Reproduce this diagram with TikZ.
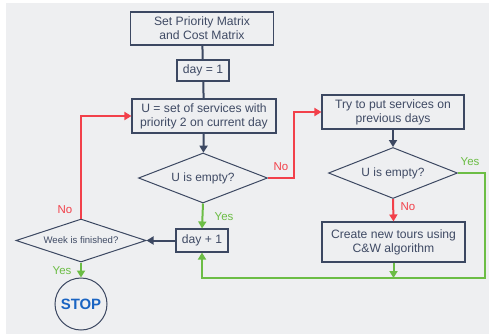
\documentclass[tikz,border=0pt]{standalone}
\usepackage{fontspec}
\setmainfont{Liberation Sans}
\usetikzlibrary{shapes.geometric,arrows.meta,calc}
\definecolor{bg}{HTML}{EEEFF1}
\definecolor{ln}{HTML}{3C4862}
\definecolor{tx}{HTML}{3F4A64}
\definecolor{rd}{HTML}{F2404A}
\definecolor{gr}{HTML}{6CBD45}
\definecolor{bl}{HTML}{1A64C2}
\tikzset{
  box/.style={draw=ln,line width=1.1bp,inner sep=0pt,align=center,text=tx,font=\fontsize{12.2}{14}\selectfont},
  dia/.style={draw=ln,line width=1bp,diamond,inner sep=0pt,text=tx,font=\fontsize{12}{14}\selectfont},
  conn/.style={line width=2bp},
  tip/.style={-{Triangle[length=7bp,width=8bp]}},
  dk/.style={conn,draw=ln},
  nored/.style={conn,draw=rd},
  yesgr/.style={conn,draw=gr},
  lbl/.style={font=\fontsize{11.5}{13}\selectfont,inner sep=0pt}
}
\begin{document}
\begin{tikzpicture}[x=1bp,y=-1bp]
\useasboundingbox (0,0) rectangle (489,334);
\fill[bg] (6,3) rectangle (489,334);
% nodes
\node[box,minimum width=143bp,minimum height=33bp] (set) at (202,28.5) {Set Priority Matrix\\and Cost Matrix};
\node[box,minimum width=52bp,minimum height=21bp] (day1) at (203,70.5) {day = 1};
\node[box,minimum width=144bp,minimum height=34bp] (U) at (204,116) {U = set of services with\\priority 2 on current day};
\node[dia,aspect=2.58,minimum width=129bp,minimum height=50bp] (d1) at (203,178) {U is empty?};
\node[box,minimum width=142bp,minimum height=34bp] (try) at (393,112) {Try to put services on\\previous days};
\node[dia,aspect=2.53,minimum width=129bp,minimum height=51bp] (d2) at (393,173) {U is empty?};
\node[box,minimum width=143bp,minimum height=40bp] (cw) at (393.5,242) {Create new tours using\\C\&W algorithm};
\node[box,minimum width=52bp,minimum height=23bp] (dayp) at (202,240.5) {day + 1};
\node[dia,aspect=3.02,minimum width=130bp,minimum height=43bp,font=\fontsize{9.6}{11}\selectfont] (week) at (81,240.5) {Week is finished?};
\node[draw=ln,line width=1bp,circle,minimum size=52bp,inner sep=0pt,text=bl,font=\fontsize{15}{17}\bfseries\selectfont] (stop) at (81,304) {STOP};
\coordinate (g1) at (485,278);
% connectors
\draw[dk] (set) -- (day1);
\draw[dk] (day1) -- (U);
\draw[dk,tip] (U) -- (d1);
\draw[nored,tip] (d1.east) -| ($(try.west)+(-27,0)$) -- (try.west);
\draw[dk,tip] (try) -- (d2);
\draw[nored,tip] (d2.south) -- (cw.north);
\draw[yesgr,tip] (d2.east) -| (g1) -| (dayp.south);
\draw[yesgr,tip] (cw.south) -- (cw.south |- g1);
\draw[yesgr,tip] (d1.south) -- (dayp.north);
\draw[dk,tip] (dayp.west) -- (week.east);
\draw[nored,tip] (week.north) |- (U.west);
\draw[yesgr,tip] (week.south) -- (stop.north);
% labels
\node[lbl,text=rd] (l1) at (281,167) {No};
\node[lbl,text=gr] (l2) at (470,162) {Yes};
\node[lbl,text=rd] (l3) at (408,207) {No};
\node[lbl,text=gr] (l4) at (224,216.5) {Yes};
\node[lbl,text=rd] (l5) at (65,209.5) {No};
\node[lbl,text=gr] (l6) at (62,270.5) {Yes};
\end{tikzpicture}
\end{document}
